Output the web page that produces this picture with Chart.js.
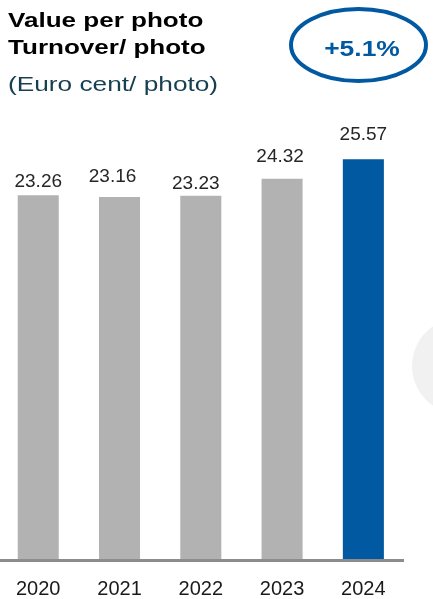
<!DOCTYPE html>
<html>
<head>
<meta charset="utf-8">
<script src="https://cdn.jsdelivr.net/npm/chart.js@4"></script>
<style>
  body { margin: 0; background: #fff; font-family: "Liberation Sans", Arial, sans-serif; }
  .wrap { position: relative; width: 433px; height: 599px; overflow: hidden; }
  .dot { position: absolute; left: 412px; top: 318px; width: 96px; height: 96px; border-radius: 50%; background: #f1f1f1; }
  canvas { position: absolute; left: -4px; top: 20px; }
  .t { position: absolute; left: 8px; white-space: nowrap; transform-origin: left center; line-height: 1; }
  .b { font-weight: bold; color: #000; font-size: 21px; transform: scaleX(1.24); }
  .s { color: #163f50; font-size: 21px; transform: scaleX(1.25); }
  svg { position: absolute; left: 0; top: 0; }
  .pct { position: absolute; left: 362px; top: 49px; font-weight: bold; font-size: 22px; color: #0059a1;
         transform: translate(-50%, -50%) scaleX(1.2); white-space: nowrap; line-height: 1; }
</style>
</head>
<body>
<div class="wrap">
  <div class="dot"></div>
  <canvas id="myChart" width="437" height="599" style="width:437px;height:599px"></canvas>
  <div class="t b" style="top:9px">Value per photo</div>
  <div class="t b" style="top:36px">Turnover/ photo</div>
  <div class="t s" style="top:73px">(Euro cent/ photo)</div>
  <svg width="433" height="100"><ellipse cx="358.5" cy="45" rx="67.5" ry="36" fill="none" stroke="#0059a1" stroke-width="4"/></svg>
  <div class="pct">+5.1%</div>
</div>
<script>
const years = ['2020', '2021', '2022', '2023', '2024'];
const values = [23.26, 23.16, 23.23, 24.32, 25.57];
const barColors = ['#b2b2b2', '#b2b2b2', '#b2b2b2', '#b2b2b2', '#0059a1'];
// little nudges so the labels sit like in the slide
const labelGap = [8, 15, 7, 17, 19];
const labelShift = [0, -7, -5, -2, 0];

const baseLine = {
  id: 'baseLine',
  beforeDatasetsDraw(chart) {
    const ctx = chart.ctx, a = chart.chartArea;
    ctx.save();
    ctx.strokeStyle = '#8c8c8c';
    ctx.lineWidth = 3;
    ctx.beginPath();
    ctx.moveTo(a.left, a.bottom + 1.5);
    ctx.lineTo(a.right, a.bottom + 1.5);
    ctx.stroke();
    ctx.restore();
  }
};

const valueLabels = {
  id: 'valueLabels',
  afterDatasetsDraw(chart) {
    const ctx = chart.ctx;
    const meta = chart.getDatasetMeta(0);
    ctx.save();
    ctx.font = '19px "Liberation Sans", Arial, sans-serif';
    ctx.fillStyle = '#262626';
    ctx.textAlign = 'center';
    ctx.textBaseline = 'alphabetic';
    meta.data.forEach((bar, i) => {
      ctx.fillText(values[i].toFixed(2), bar.x + labelShift[i], bar.y - labelGap[i]);
    });
    ctx.restore();
  }
};

const myChart = new Chart(document.getElementById('myChart').getContext('2d'), {
  type: 'bar',
  data: {
    labels: years,
    datasets: [{
      data: values,
      backgroundColor: barColors,
      borderWidth: 0,
      categoryPercentage: 1,
      barPercentage: 0.505
    }]
  },
  options: {
    responsive: false,
    animation: false,
    layout: { padding: { left: 0, right: 29, top: 70, bottom: 0 } },
    plugins: { legend: { display: false }, tooltip: { enabled: false } },
    scales: {
      x: {
        grid: { display: false, drawTicks: false },
        border: { display: false },
        ticks: { color: '#1a1a1a', padding: 20, font: { family: '"Liberation Sans", Arial, sans-serif', size: 20, lineHeight: 1 } }
      },
      y: { display: false, min: 0, max: 30 }
    }
  },
  plugins: [baseLine, valueLabels]
});
</script>
</body>
</html>
